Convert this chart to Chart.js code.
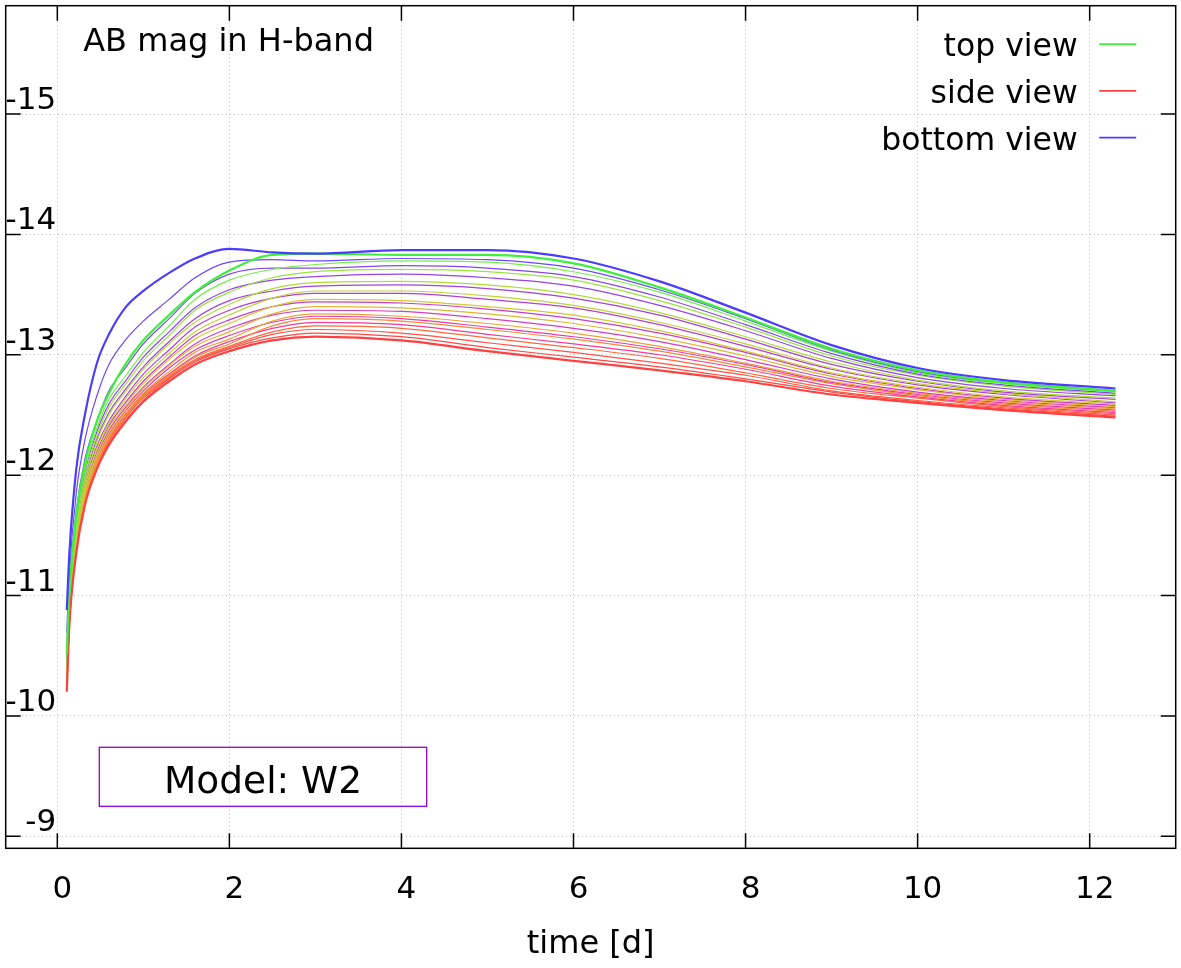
<!DOCTYPE html>
<html>
<head>
<meta charset="utf-8">
<title>AB mag in H-band</title>
<script src="https://cdn.jsdelivr.net/npm/chart.js@4.4.1/dist/chart.umd.min.js"></script>
<style>
  html, body { margin: 0; padding: 0; background: #fff; }
  #wrap { width: 1181px; height: 968px; }
</style>
</head>
<body>
<div id="wrap"><canvas id="magChart" width="1181" height="968"></canvas></div>
<script>
// time since merger [d]
var times = [0.11, 0.14, 0.22, 0.32, 0.46, 0.6, 0.8, 1, 1.3, 1.6, 2, 2.5, 3, 4, 5, 6, 7, 8, 9, 10, 11, 12.3];

// AB magnitude in H-band, one array per viewing angle
var bottomView = [-10.88, -11.35, -12.05, -12.50, -12.93, -13.17, -13.40, -13.53, -13.68, -13.80, -13.88, -13.85, -13.84, -13.87, -13.87, -13.80, -13.61, -13.35, -13.08, -12.89, -12.79, -12.72];
var bottom1 = [-10.69, -11.18, -11.85, -12.29, -12.66, -12.92, -13.13, -13.28, -13.46, -13.64, -13.77, -13.79, -13.78, -13.80, -13.79, -13.72, -13.54, -13.30, -13.04, -12.86, -12.77, -12.70];
var bottom2 = [-10.54, -11.05, -11.70, -12.13, -12.45, -12.70, -12.90, -13.09, -13.30, -13.51, -13.67, -13.72, -13.72, -13.74, -13.72, -13.65, -13.48, -13.25, -13.01, -12.84, -12.75, -12.68];
var bottom3 = [-10.45, -10.97, -11.60, -12.02, -12.36, -12.59, -12.79, -12.98, -13.19, -13.39, -13.54, -13.62, -13.65, -13.67, -13.64, -13.57, -13.41, -13.20, -12.97, -12.81, -12.72, -12.66];
var bottom4 = [-10.39, -10.92, -11.55, -11.96, -12.30, -12.52, -12.72, -12.90, -13.11, -13.30, -13.45, -13.53, -13.57, -13.58, -13.55, -13.47, -13.33, -13.13, -12.92, -12.78, -12.69, -12.63];
var bottom5 = [-10.35, -10.88, -11.50, -11.92, -12.24, -12.45, -12.66, -12.84, -13.04, -13.23, -13.37, -13.47, -13.51, -13.51, -13.46, -13.39, -13.25, -13.07, -12.88, -12.75, -12.67, -12.60];
var bottom6 = [-10.32, -10.85, -11.47, -11.88, -12.19, -12.41, -12.61, -12.78, -12.98, -13.16, -13.29, -13.40, -13.44, -13.43, -13.38, -13.30, -13.18, -13.02, -12.84, -12.72, -12.64, -12.58];
var bottom7 = [-10.29, -10.83, -11.44, -11.85, -12.16, -12.37, -12.57, -12.73, -12.92, -13.09, -13.22, -13.33, -13.37, -13.36, -13.30, -13.22, -13.11, -12.96, -12.80, -12.69, -12.62, -12.56];
var bottom8 = [-10.26, -10.80, -11.41, -11.82, -12.13, -12.34, -12.54, -12.70, -12.89, -13.04, -13.16, -13.27, -13.32, -13.30, -13.23, -13.15, -13.05, -12.92, -12.77, -12.67, -12.60, -12.54];
var bottom9 = [-10.24, -10.79, -11.39, -11.80, -12.10, -12.31, -12.51, -12.67, -12.84, -12.99, -13.11, -13.22, -13.27, -13.25, -13.17, -13.09, -13.00, -12.88, -12.74, -12.65, -12.58, -12.52];

var topView = [-10.51, -11.02, -11.67, -12.09, -12.45, -12.68, -12.93, -13.12, -13.33, -13.52, -13.70, -13.83, -13.84, -13.83, -13.83, -13.76, -13.56, -13.31, -13.05, -12.87, -12.77, -12.70];
var top1 = [-10.46, -10.98, -11.62, -12.04, -12.39, -12.63, -12.83, -13.02, -13.24, -13.46, -13.62, -13.71, -13.75, -13.78, -13.77, -13.69, -13.52, -13.28, -13.03, -12.85, -12.76, -12.69];
var top2 = [-10.40, -10.93, -11.56, -11.98, -12.33, -12.56, -12.76, -12.95, -13.16, -13.37, -13.52, -13.64, -13.69, -13.71, -13.69, -13.62, -13.45, -13.23, -12.99, -12.83, -12.74, -12.67];
var top3 = [-10.36, -10.89, -11.52, -11.93, -12.28, -12.50, -12.70, -12.88, -13.09, -13.27, -13.42, -13.55, -13.60, -13.61, -13.58, -13.50, -13.35, -13.15, -12.94, -12.79, -12.70, -12.64];
var top4 = [-10.33, -10.86, -11.48, -11.89, -12.22, -12.43, -12.64, -12.81, -13.01, -13.19, -13.33, -13.47, -13.53, -13.53, -13.49, -13.41, -13.27, -13.09, -12.89, -12.76, -12.68, -12.61];
var top5 = [-10.30, -10.84, -11.46, -11.86, -12.17, -12.39, -12.59, -12.76, -12.96, -13.13, -13.26, -13.40, -13.46, -13.45, -13.40, -13.33, -13.20, -13.03, -12.85, -12.73, -12.65, -12.59];
var top6 = [-10.28, -10.82, -11.43, -11.83, -12.14, -12.35, -12.55, -12.72, -12.91, -13.07, -13.19, -13.34, -13.40, -13.39, -13.34, -13.26, -13.14, -12.99, -12.82, -12.71, -12.63, -12.57];
var top7 = [-10.25, -10.80, -11.41, -11.81, -12.11, -12.32, -12.52, -12.68, -12.86, -13.02, -13.13, -13.28, -13.34, -13.32, -13.26, -13.18, -13.07, -12.93, -12.78, -12.68, -12.61, -12.55];
var top8 = [-10.23, -10.78, -11.38, -11.79, -12.09, -12.30, -12.50, -12.66, -12.83, -12.98, -13.09, -13.24, -13.30, -13.28, -13.21, -13.13, -13.03, -12.90, -12.76, -12.66, -12.59, -12.53];
var top9 = [-10.22, -10.77, -11.37, -11.77, -12.08, -12.29, -12.49, -12.65, -12.82, -12.96, -13.07, -13.19, -13.24, -13.22, -13.14, -13.06, -12.97, -12.85, -12.72, -12.64, -12.57, -12.51];

var side1 = [-10.21, -10.76, -11.36, -11.76, -12.07, -12.28, -12.48, -12.64, -12.81, -12.95, -13.06, -13.17, -13.21, -13.18, -13.10, -13.02, -12.93, -12.83, -12.70, -12.62, -12.56, -12.50];
var side2 = [-10.21, -10.76, -11.36, -11.76, -12.06, -12.26, -12.46, -12.62, -12.80, -12.94, -13.05, -13.14, -13.18, -13.15, -13.06, -12.98, -12.90, -12.80, -12.69, -12.61, -12.55, -12.49];
var sideView = [-10.20, -10.75, -11.35, -11.75, -12.05, -12.25, -12.45, -12.61, -12.78, -12.92, -13.03, -13.12, -13.15, -13.12, -13.03, -12.95, -12.87, -12.78, -12.67, -12.60, -12.54, -12.48];

var xTicks = [0, 2, 4, 6, 8, 10, 12];
var yTicks = [-15, -14, -13, -12, -11, -10, -9];

// first entry is drawn on top
var curves = [
    [bottomView, '#4b3cff', 2.2],
    [topView, '#3cf03c', 2.2],
    [sideView, '#ff4040', 2.2],
    [bottom1, '#6e46ff', 1.2], [top1, '#74f04a', 1.2],
    [bottom2, '#8446f0', 1.2], [top2, '#98e640', 1.2],
    [bottom3, '#9544e6', 1.2], [top3, '#b0dc38', 1.2],
    [bottom4, '#a541dc', 1.2], [top4, '#c4d234', 1.2],
    [bottom5, '#b43ed4', 1.2], [top5, '#d6c832', 1.2],
    [bottom6, '#c63ccb', 1.2], [top6, '#e2b632', 1.2],
    [bottom7, '#d53cc0', 1.2], [top7, '#eda234', 1.2],
    [bottom8, '#e43cb0', 1.2], [top8, '#f68a38', 1.2],
    [bottom9, '#f23c98', 1.2], [top9, '#fc6a3c', 1.2],
    [side1, '#ff5246', 1.2], [side2, '#ff4a44', 1.2]
];

var datasets = curves.map(function(c) {
    return {
        data: times.map(function(t, i) { return { x: t, y: c[0][i] }; }),
        borderColor: c[1],
        borderWidth: c[2],
        pointRadius: 0,
        fill: false,
        cubicInterpolationMode: 'monotone'
    };
});

var FONT = '"DejaVu Sans", Verdana, sans-serif';

// gnuplot style frame, inward ticks, labels, key and model box
var gnuplotFrame = {
    id: 'gnuplotFrame',
    afterDatasetsDraw: function(chart) {
        var ctx = chart.ctx;
        var a = chart.chartArea;
        var xs = chart.scales.x, ys = chart.scales.y;
        ctx.save();

        ctx.strokeStyle = '#000';
        ctx.lineWidth = 1.5;
        ctx.strokeRect(a.left, a.top, a.right - a.left, a.bottom - a.top);
        ctx.beginPath();
        xTicks.forEach(function(v) {
            var px = xs.getPixelForValue(v);
            ctx.moveTo(px, a.bottom); ctx.lineTo(px, a.bottom - 15);
            ctx.moveTo(px, a.top); ctx.lineTo(px, a.top + 15);
        });
        yTicks.forEach(function(v) {
            var py = ys.getPixelForValue(v);
            ctx.moveTo(a.left, py); ctx.lineTo(a.left + 15, py);
            ctx.moveTo(a.right, py); ctx.lineTo(a.right - 15, py);
        });
        ctx.stroke();

        ctx.fillStyle = '#000';
        ctx.font = '31px ' + FONT;
        ctx.textBaseline = 'alphabetic';
        ctx.textAlign = 'right';
        yTicks.forEach(function(v) {
            ctx.fillText(String(v), a.left + 50.5, ys.getPixelForValue(v) - 5);
        });
        ctx.textAlign = 'center';
        xTicks.forEach(function(v) {
            ctx.fillText(String(v), xs.getPixelForValue(v) + 5, a.bottom + 50);
        });
        ctx.font = '32px ' + FONT;
        ctx.fillText('time [d]', (a.left + a.right) / 2, a.bottom + 105);

        ctx.textAlign = 'left';
        ctx.fillText('AB mag in H-band', a.left + 77.5, a.top + 45);

        // key
        ctx.font = '31.5px ' + FONT;
        var keys = [['top view', '#3cf03c'], ['side view', '#ff4040'], ['bottom view', '#4b3cff']];
        keys.forEach(function(k, i) {
            var base = a.top + 50.5 + i * 46.7;
            ctx.textAlign = 'right';
            ctx.fillStyle = '#000';
            ctx.fillText(k[0], a.right - 98, base);
            ctx.strokeStyle = k[1];
            ctx.lineWidth = 1.7;
            ctx.beginPath();
            ctx.moveTo(a.right - 76.5, base - 12);
            ctx.lineTo(a.right - 39.5, base - 12);
            ctx.stroke();
        });

        // model label
        ctx.strokeStyle = '#9400d3';
        ctx.lineWidth = 1.3;
        ctx.strokeRect(99.3, 747.3, 327.4, 59);
        ctx.fillStyle = '#000';
        ctx.textAlign = 'center';
        ctx.font = '37.5px ' + FONT;
        ctx.fillText('Model: W2', 263, 793.3);

        ctx.restore();
    }
};

var ctxMag = document.getElementById('magChart').getContext('2d');
var magChart = new Chart(ctxMag, {
    type: 'line',
    data: { datasets: datasets },
    options: {
        responsive: false,
        animation: false,
        layout: {
            padding: { left: 5.7, top: 5.7, right: 5.3, bottom: 119.7 }
        },
        plugins: {
            legend: { display: false },
            tooltip: { enabled: false }
        },
        scales: {
            x: {
                type: 'linear',
                min: -0.6,
                max: 13.0,
                afterBuildTicks: function(scale) {
                    scale.ticks = xTicks.map(function(v) { return { value: v }; });
                },
                ticks: { display: false },
                grid: { color: '#bdbdbd', lineWidth: 1, drawTicks: false },
                border: { display: false, dash: [1, 3] }
            },
            y: {
                type: 'linear',
                reverse: true,
                min: -15.9,
                max: -8.9,
                afterBuildTicks: function(scale) {
                    scale.ticks = yTicks.map(function(v) { return { value: v }; });
                },
                ticks: { display: false },
                grid: { color: '#bdbdbd', lineWidth: 1, drawTicks: false },
                border: { display: false, dash: [1, 3] }
            }
        }
    },
    plugins: [gnuplotFrame]
});
</script>
</body>
</html>
